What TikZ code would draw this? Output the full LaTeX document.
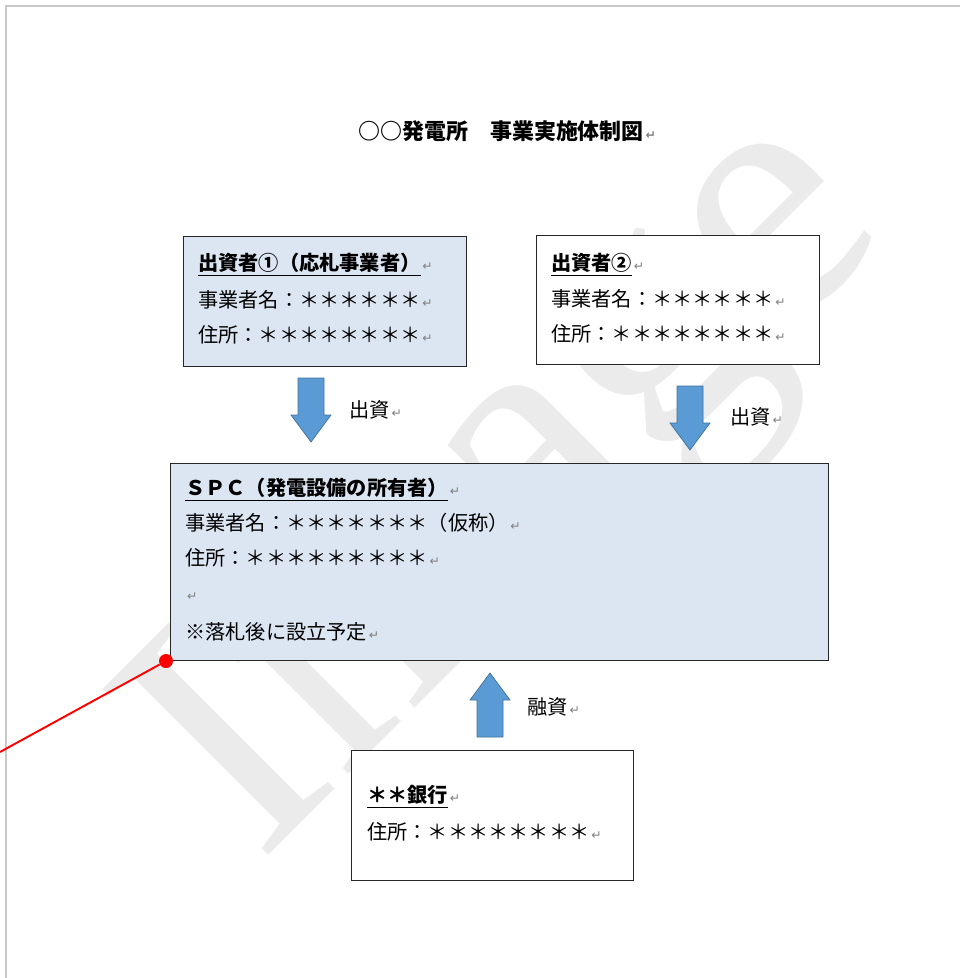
\documentclass[tikz,border=0pt]{standalone}
\usepackage{fontspec}
\setmainfont{Noto Sans CJK JP}
\newfontfamily\wmfont{Liberation Serif}
\newfontfamily\symfont{DejaVu Sans}
\usepackage{tikz}

\definecolor{boxblue}{HTML}{DCE6F2}
\definecolor{arrowblue}{HTML}{5B9BD5}
\definecolor{arrowedge}{HTML}{41719C}
\definecolor{pagegray}{HTML}{C8C8C8}
\definecolor{wmgray}{HTML}{EBEBEB}

\newcommand{\ret}{\hspace{1pt}{\symfont\color{gray}\fontsize{7}{7}\selectfont ↵}}

\tikzset{
    plainbox/.style={draw=black!85, line width=0.8pt, inner sep=0pt, anchor=north west},
    bluebox/.style={plainbox, fill=boxblue},
    txt/.style={anchor=west, inner sep=0pt, font=\fontsize{11.5}{13}\selectfont},
    pics/blockarrow/.style={code={
        \draw[fill=arrowblue, draw=arrowedge, line width=0.4pt]
            (-13,-32) -- (13,-32) -- (13,5) -- (20,5) -- (0,32) -- (-20,5) -- (-13,5) -- cycle;
    }},
}

\begin{document}
\begin{tikzpicture}[x=0.02cm, y=-0.02cm]
    \useasboundingbox (0,0) rectangle (960,978);

    % watermark and page edge
    \node[font=\wmfont\fontsize{204}{204}\selectfont, text=wmgray, rotate=45] (wm) at (520,492) {Image};
    \draw[pagegray, line width=1.1pt] (6,978) -- (6,6) -- (960,6);

    \node[anchor=west, inner sep=0pt, font=\bfseries\fontsize{12.5}{14}\selectfont] (title) at (358,131) {○○発電所　事業実施体制図\ret};

    % boxes
    \node[bluebox, minimum width=5.66cm, minimum height=2.6cm] (inv1) at (183,236) {};
    \node[plainbox, fill=white, minimum width=5.66cm, minimum height=2.58cm] (inv2) at (536,235) {};
    \node[bluebox, minimum width=13.16cm, minimum height=3.94cm] (spc) at (170,463) {};
    \node[plainbox, fill=white, minimum width=5.64cm, minimum height=2.6cm] (bank) at (351,750) {};

    \node[txt] (inv1a) at (198,265) {\underline{\textbf{出資者①（応札事業者）}}\ret};
    \node[txt] (inv1b) at (198,300) {事業者名：＊＊＊＊＊＊\ret};
    \node[txt] (inv1c) at (198,335) {住所：＊＊＊＊＊＊＊＊\ret};

    \node[txt] (inv2a) at (551,265) {\underline{\textbf{出資者②}}\ret};
    \node[txt] (inv2b) at (551,299) {事業者名：＊＊＊＊＊＊\ret};
    \node[txt] (inv2c) at (551,334) {住所：＊＊＊＊＊＊＊＊\ret};

    \node[txt] (spca) at (185,490) {\underline{\textbf{ＳＰＣ（発電設備の所有者）}}\ret};
    \node[txt] (spcb) at (185,523) {事業者名：＊＊＊＊＊＊＊（仮称）\ret};
    \node[txt] (spcc) at (185,558) {住所：＊＊＊＊＊＊＊＊＊\ret};
    \node[txt] (spcd) at (185,597) {\ret};
    \node[txt] (spce) at (185,632) {※落札後に設立予定\ret};

    \node[txt] (banka) at (367,797) {\underline{\textbf{＊＊銀行}}\ret};
    \node[txt] (bankb) at (367,832) {住所：＊＊＊＊＊＊＊＊\ret};

    % block arrows
    \pic (arr1) at (311,410) {blockarrow};
    \pic (arr2) at (690,418) {blockarrow};
    \pic[rotate=180] (arr3) at (490,705) {blockarrow};
    \node[txt] (lab1) at (349,410) {出資\ret};
    \node[txt] (lab2) at (730,417) {出資\ret};
    \node[txt] (lab3) at (527,707) {融資\ret};

    % red pointer
    \coordinate (tail) at (0,752);
    \node[circle, fill=red, inner sep=0pt, minimum size=0.28cm] (pin) at (166,661) {};
    \draw[red, line width=1.1pt] (pin) -- (tail);
\end{tikzpicture}
\end{document}
